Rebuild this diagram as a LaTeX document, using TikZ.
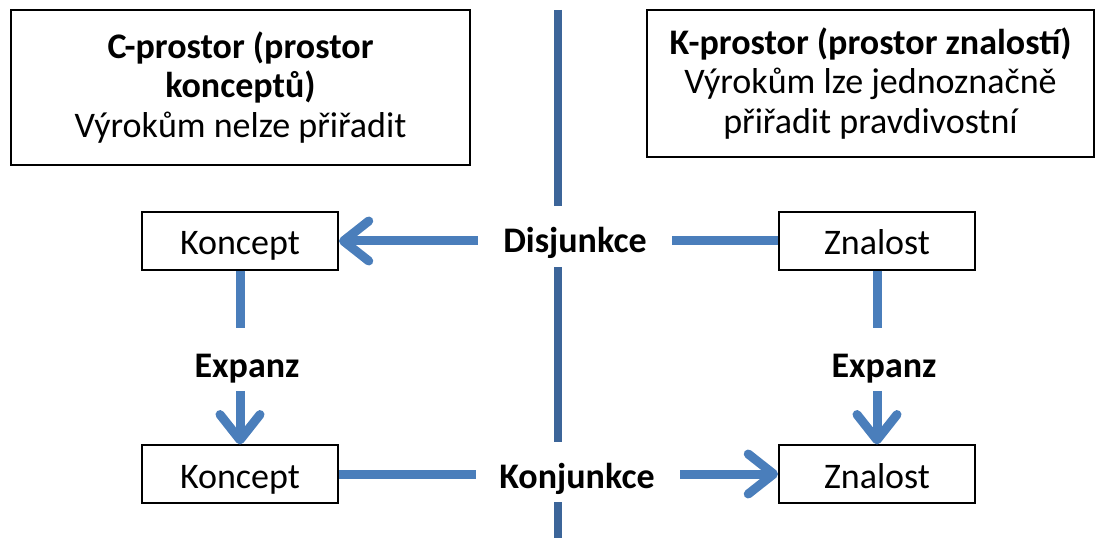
\documentclass[tikz,border=0pt]{standalone}
\usepackage{fontspec}
\setmainfont{Carlito}
\usetikzlibrary{arrows.meta}
\definecolor{tokmodra}{HTML}{4A7EBB}
\definecolor{osamodra}{HTML}{3C6599}

\begin{document}
\begin{tikzpicture}[x=0.75pt, y=-0.75pt]
\tikzset{ramecek/.style={draw, line width=1.4pt, align=center, inner sep=0pt, font=\fontsize{27}{29.5}\selectfont},
pojem/.style={ramecek, minimum width=147pt, minimum height=43pt, text height=25.5pt, text depth=4.5pt},
popisek/.style={font=\fontsize{27}{29}\selectfont\bfseries, inner sep=0pt, anchor=base},
tok/.style={draw=tokmodra, line width=6.75pt},
sipka/.style={tok, -{Straight Barb[length=19pt, width=30pt, line cap=round, line join=round]}},
osa/.style={draw=osamodra, line width=6pt}}
\useasboundingbox (0,0) rectangle (1096,538);
\node[ramecek, minimum width=344pt, minimum height=116pt] (Cprostor) at (240.5,87.5)
  {\textbf{C-prostor (prostor}\\ \textbf{konceptů)}\\ Výrokům nelze přiřadit};
\node[ramecek, minimum width=335pt, minimum height=110pt] (Kprostor) at (870.5,83.5)
  {\textbf{K-prostor (prostor znalostí)}\\ Výrokům lze jednoznačně\\ přiřadit pravdivostní};
\node[pojem] (Kon1) at (240,241) {Koncept};
\node[pojem] (Zn1) at (877,241) {Znalost};
\node[pojem] (Kon2) at (240,474) {Koncept};
\node[pojem] (Zn2) at (877,474) {Znalost};
\node[popisek] (Dis) at (575,253) {Disjunkce};
\node[popisek] (Konj) at (577,488) {Konjunkce};
\node[popisek] (Exp1) at (247,377) {Expanz};
\node[popisek] (Exp2) at (884,377) {Expanz};
\coordinate (osaHore) at (558,10);
\coordinate (osaDole) at (558,538);
% deleni prostoru
\draw[osa, shorten >=16pt] (osaHore) -- (osaHore |- Dis.north);
\draw[osa, shorten <=6pt, shorten >=15pt] (osaHore |- Dis.south) -- (osaHore |- Konj.north);
\draw[osa, shorten <=6pt] (osaDole |- Konj.south) -- (osaDole);
% disjunkce
\draw[tok, shorten >=19pt] (Zn1) -- (Dis.east |- Zn1);
\draw[sipka, shorten <=19pt] (Dis.west |- Kon1) -- (Kon1);
% konjunkce
\draw[tok, shorten >=17pt] (Kon2) -- (Konj.west |- Kon2);
\draw[sipka, shorten <=19pt] (Konj.east |- Zn2) -- (Zn2);
% expanze
\draw[tok, shorten >=19pt] (Kon1) -- (Kon1 |- Exp1.north);
\draw[sipka, shorten <=6pt] (Kon1 |- Exp1.south) -- (Kon2);
\draw[tok, shorten >=19pt] (Zn1) -- (Zn1 |- Exp2.north);
\draw[sipka, shorten <=6pt] (Zn1 |- Exp2.south) -- (Zn2);
\end{tikzpicture}
\end{document}
